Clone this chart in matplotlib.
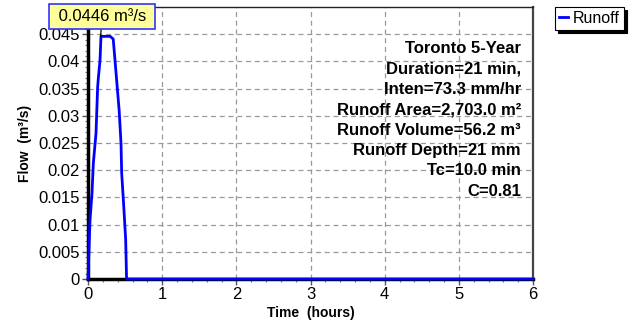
import matplotlib
matplotlib.use("Agg")
import matplotlib.pyplot as plt
from matplotlib.ticker import MultipleLocator

plt.rcParams['font.family'] = ['Liberation Sans', 'DejaVu Sans']

time_hr = [0.0, 0.01, 0.027, 0.054, 0.072, 0.108, 0.13, 0.14, 0.162, 0.175,
           0.30, 0.34, 0.364, 0.42, 0.445, 0.454, 0.485, 0.508, 0.52, 6.0]
flow_cms = [0.0, 0.004, 0.0108, 0.0158, 0.0213, 0.0268, 0.0353, 0.037, 0.0402, 0.0446,
            0.0446, 0.0441, 0.0402, 0.031, 0.025, 0.0195, 0.0127, 0.0072, 0.0, 0.0]
peak_time = 0.17
peak_flow = 0.0446
series_name = "Runoff"
x_ticks = [0, 1, 2, 3, 4, 5, 6]
y_ticks = [0, 0.005, 0.01, 0.015, 0.02, 0.025, 0.03, 0.035, 0.04, 0.045]
y_tick_labels = ["0", "0.005", "0.01", "0.015", "0.02", "0.025", "0.03", "0.035", "0.04", "0.045"]
info_lines = ["Toronto 5-Year", "Duration=21 min,", "Inten=73.3 mm/hr",
              "Runoff Area=2,703.0 m²", "Runoff Volume=56.2 m³",
              "Runoff Depth=21 mm", "Tc=10.0 min", "C=0.81"]

W, H = 641, 325
fig = plt.figure(figsize=(W / 100, H / 100), dpi=100)
ax = fig.add_axes([88 / W, 1 - 279 / H, (533 - 88) / W, (279 - 7) / H])

ax.plot(time_hr, flow_cms, color='#0000ff', lw=2.0, zorder=5, clip_on=False,
        label=series_name)

ax.set_xlim(0, 6)
ax.set_ylim(0, 0.05)
ax.set_xticks(x_ticks)
ax.set_xticklabels([str(t) for t in x_ticks])
ax.set_yticks(y_ticks)
ax.set_yticklabels(y_tick_labels)
ax.xaxis.set_minor_locator(MultipleLocator(0.2))
ax.yaxis.set_minor_locator(MultipleLocator(0.001))
ax.tick_params(axis='both', which='major', labelsize=12, length=4, width=1,
               color='#555555', direction='out', pad=2)
ax.tick_params(axis='both', which='minor', length=2.5, width=0.8,
               color='#777777', direction='out')
ax.grid(True, which='major', color='#999999', linestyle=(0, (4, 3)), lw=0.9)

ax.spines['left'].set_linewidth(2.5)
ax.spines['left'].set_color('black')
ax.spines['bottom'].set_linewidth(2.5)
ax.spines['bottom'].set_color('black')
ax.spines['right'].set_linewidth(1.6)
ax.spines['right'].set_color('#444444')
ax.spines['top'].set_linewidth(1.0)
ax.spines['top'].set_color('#222222')

ax.set_xlabel("Time  (hours)", fontsize=10, fontweight='bold', labelpad=3)
ax.set_ylabel("Flow  (m³/s)", fontsize=10, fontweight='bold', labelpad=4)

# Info text block
ax.text(0.973, 0.875, "\n".join(info_lines), transform=ax.transAxes,
        ha='right', va='top', fontsize=12, fontweight='bold',
        linespacing=1.45, zorder=6)

# Peak annotation
ax.annotate(f" {peak_flow} m³/s ", xy=(peak_time, peak_flow),
            xytext=(102 / W, 1 - 16.5 / H), textcoords='figure fraction',
            ha='center', va='center', fontsize=12, annotation_clip=False,
            bbox=dict(boxstyle='square,pad=0.3', fc='#ffff99', ec='#3333ff', lw=1.2),
            arrowprops=dict(arrowstyle='-', color='black', lw=0.9,
                            shrinkA=0, shrinkB=0), zorder=10)

# Partially visible title (cropped at top in the reference)
fig.text(268 / W, 1 + 3.5 / H, "Runoff Hydrograph", color='#3333ff', fontsize=12,
         fontweight='bold', ha='center', va='baseline')

# Legend
leg = fig.legend(handles=ax.get_lines(), loc='upper right',
                 bbox_to_anchor=(624 / W, 1 - 7 / H), fontsize=11.5,
                 frameon=True, fancybox=False,
                 shadow={'color': 'black', 'alpha': 1.0},
                 handlelength=0.6, handletextpad=0.3, borderpad=0.25,
                 borderaxespad=0)
leg.get_frame().set_edgecolor('black')
leg.get_frame().set_linewidth(0.8)

fig.savefig("out.png", dpi=100)
